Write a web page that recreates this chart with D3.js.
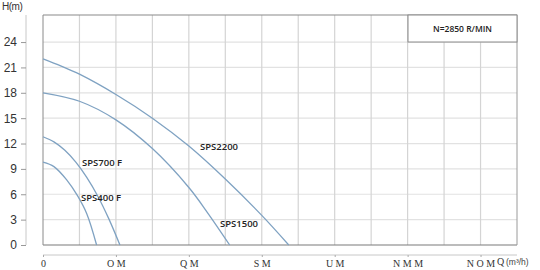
<!DOCTYPE html>
<html>
<head>
<meta charset="utf-8">
<script src="https://cdn.jsdelivr.net/npm/d3@7/dist/d3.min.js"></script>
<style>
  html, body { margin: 0; padding: 0; background: #fff; }
  svg { display: block; }
</style>
</head>
<body>
<svg id="chart" width="540" height="270"></svg>
<script>
// pump curves, Q (m3/h) vs H (m)
const curveNames = ["SPS2200", "SPS1500", "SPS700 F", "SPS400 F"]
const sps2200Q = [0, 5, 10, 20, 30, 40, 50, 60, 67.4]
const sps2200H = [22, 21.15, 20.2, 17.8, 15.0, 11.7, 7.8, 3.5, 0]
const sps1500Q = [0, 10, 20, 30, 40, 45, 51.2]
const sps1500H = [18, 17.0, 14.8, 11.4, 6.8, 3.9, 0]
const sps700Q = [0, 3, 6, 9, 12, 15, 18, 21.1]
const sps700H = [12.8, 12.2, 11.2, 9.8, 8.0, 5.8, 3.15, 0]
const sps400Q = [0, 3, 6.5, 9.5, 12, 14.7]
const sps400H = [9.8, 9.27, 7.7, 5.8, 3.7, 0]

const hTicks = [0, 3, 6, 9, 12, 15, 18, 21, 24]
const qTicks = [0, 20, 40, 60, 80, 100, 120]
const qTickLabels = ["0", "O M", "Q M", "S M", "U M", "N M M", "N O M"]
const qGrid = [0, 10, 20, 30, 40, 50, 60, 70, 80, 90, 100, 110, 120, 130]
const speedText = "N=2850 R/MIN"

const svg = d3.select("#chart")
const lineColor = "#7fa2c2"

const x = d3.scaleLinear().domain([0, 130]).range([43, 517])
const y = d3.scaleLinear().domain([0, 27.2]).range([245, 15])

// grid
svg.append("g").selectAll("line").data(hTicks.slice(1)).join("line")
  .attr("x1", x(0)).attr("x2", x(130))
  .attr("y1", d => y(d)).attr("y2", d => y(d))
  .attr("stroke", "#e2e2e2").attr("stroke-width", 1.2)

svg.append("g").selectAll("line").data(qGrid.slice(1, -1)).join("line")
  .attr("x1", d => x(d)).attr("x2", d => x(d))
  .attr("y1", y(27.2)).attr("y2", y(0))
  .attr("stroke", "#d4d4d4").attr("stroke-width", 1.2)

// frame
svg.append("line").attr("x1", x(0)).attr("x2", x(130)).attr("y1", y(27.2)).attr("y2", y(27.2))
  .attr("stroke", "#8a8a8a").attr("stroke-width", 1.2)
svg.append("line").attr("x1", x(0)).attr("x2", x(130)).attr("y1", y(0)).attr("y2", y(0))
  .attr("stroke", "#7a7a7a").attr("stroke-width", 1.2)
svg.append("line").attr("x1", x(0)).attr("x2", x(0)).attr("y1", y(27.2)).attr("y2", y(0))
  .attr("stroke", "#8a8a8a").attr("stroke-width", 1)
svg.append("line").attr("x1", x(130)).attr("x2", x(130)).attr("y1", y(27.2)).attr("y2", y(0))
  .attr("stroke", "#9a9a9a").attr("stroke-width", 1)

// speed box
const bx = 408
svg.append("rect").attr("x", bx).attr("y", y(27.2)).attr("width", x(130) - bx).attr("height", 27)
  .attr("fill", "#fff").attr("stroke", "#8a8a8a").attr("stroke-width", 1)
svg.append("text").attr("x", (bx + x(130)) / 2).attr("y", y(27.2) + 17)
  .attr("text-anchor", "middle").attr("font-family", "Open Sans").attr("font-weight", 600)
  .attr("font-size", 8.5).attr("fill", "#222").text(speedText)

// y axis
const yAxis = svg.append("g").attr("transform", "translate(26,0)")
  .call(d3.axisLeft(y).tickValues(hTicks).tickSize(5).tickPadding(4))
yAxis.select(".domain").attr("d", `M0,${y(27.2)}V${y(0)}`).attr("stroke", "#c8c8c8")
yAxis.selectAll(".tick line").attr("stroke", "#999")
yAxis.selectAll("text").attr("font-family", "Liberation Sans").attr("font-size", 12).attr("fill", "#333")

svg.append("text").attr("x", 2).attr("y", 10).attr("font-family", "Liberation Sans Narrow, Liberation Sans")
  .attr("font-size", 10).attr("fill", "#333").attr("letter-spacing", -0.5).text("H(m)")

// x axis
const xAxis = svg.append("g").attr("transform", "translate(0,255)")
  .call(d3.axisBottom(x).tickValues(qTicks).tickFormat((d, i) => qTickLabels[i]).tickSize(2).tickPadding(3))
xAxis.select(".domain").attr("d", `M${x(0)},0H${x(130)}`).attr("stroke", "#c8c8c8")
xAxis.selectAll(".tick line").attr("stroke", "#aaa")
xAxis.selectAll("text").attr("font-family", "Liberation Serif").attr("font-size", 10).attr("fill", "#333")

svg.append("text").attr("x", 497).attr("y", 265).attr("font-family", "Liberation Serif")
  .attr("font-size", 10).attr("fill", "#333").text("Q")
svg.append("text").attr("x", 506).attr("y", 265).attr("font-family", "Liberation Sans Narrow, Liberation Sans")
  .attr("font-size", 8.5).attr("fill", "#444").text("(m³/h)")

// curves
const series = [
  { name: curveNames[0], q: sps2200Q, h: sps2200H, lx: 200, ly: 150 },
  { name: curveNames[1], q: sps1500Q, h: sps1500H, lx: 220, ly: 227 },
  { name: curveNames[2], q: sps700Q, h: sps700H, lx: 82, ly: 166 },
  { name: curveNames[3], q: sps400Q, h: sps400H, lx: 81, ly: 201 }
]
const line = d3.line().x(d => x(d[0])).y(d => y(d[1])).curve(d3.curveCatmullRom.alpha(0.5))

series.forEach(s => {
  svg.append("path").datum(s.q.map((q, i) => [q, s.h[i]]))
    .attr("d", line).attr("fill", "none").attr("stroke", lineColor).attr("stroke-width", 1.3)
  svg.append("text").attr("x", s.lx).attr("y", s.ly).attr("font-family", "Open Sans")
    .attr("font-weight", 600).attr("font-size", 9.5).attr("fill", "#222").text(s.name)
})
</script>
</body>
</html>
